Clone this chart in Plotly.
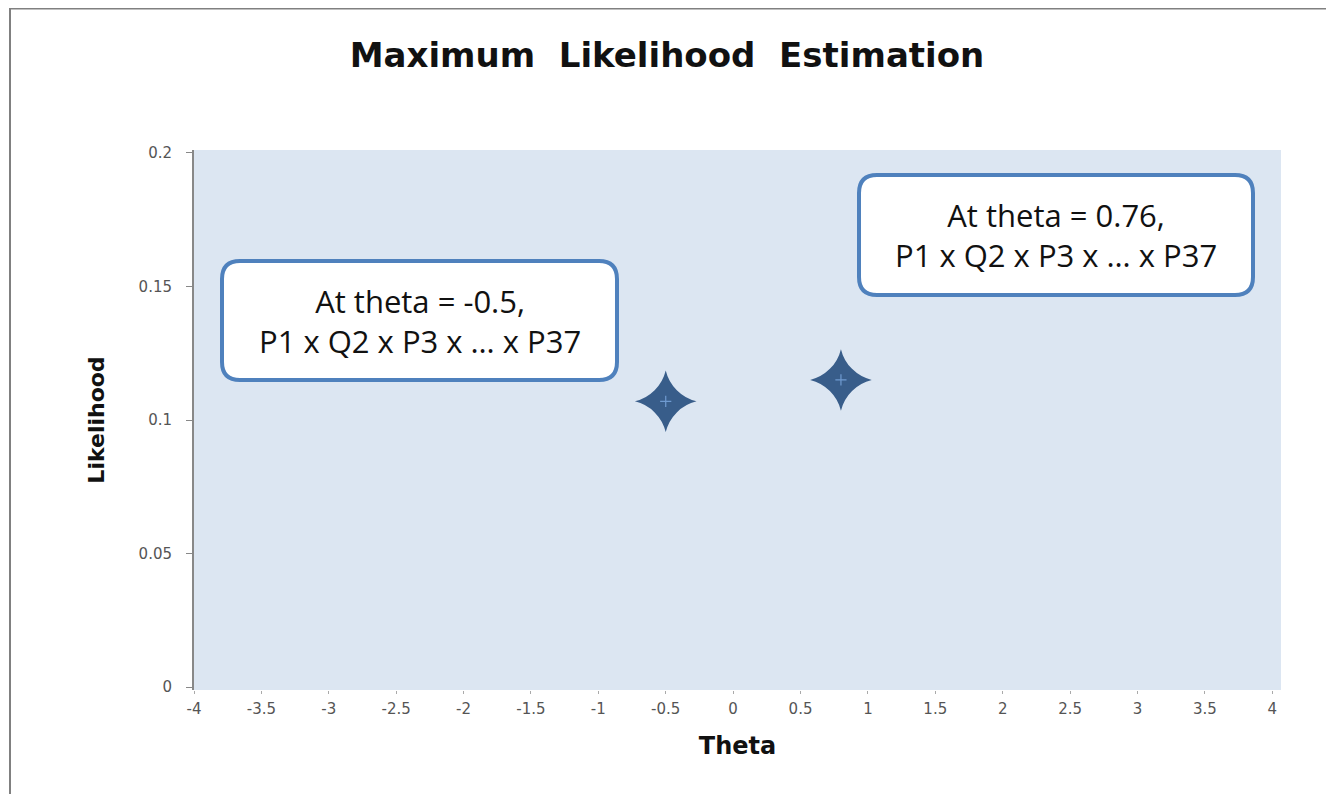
import plotly.graph_objects as go

# Data
theta = [-0.5, 0.8]
likelihood = [0.107, 0.115]
x_ticks = [-4, -3.5, -3, -2.5, -2, -1.5, -1, -0.5, 0, 0.5, 1, 1.5, 2, 2.5, 3, 3.5, 4]
y_ticks = [0, 0.05, 0.1, 0.15, 0.2]
y_tick_labels = ["0", "0.05", "0.1", "0.15", "0.2"]
box_texts = ["At theta = -0.5,<br>P1 x Q2 x P3 x … x P37",
             "At theta = 0.76,<br>P1 x Q2 x P3 x … x P37"]

# page has an 8px body margin; work in figure coordinates
OFF = 8
W, H = 1334 - OFF, 794 - OFF
L, R, T, B = 194 - OFF, 1281 - OFF, 150 - OFF, 690 - OFF

def px(xp):
    return (xp - OFF - L) / (R - L)

def py(yp):
    return (B - (yp - OFF)) / (B - T)

def rounded_rect(x0, y0, x1, y1, r):
    def P(a, b):
        return f"{px(a):.5f},{py(b):.5f}"
    return (f"M {P(x0 + r, y0)} L {P(x1 - r, y0)} Q {P(x1, y0)} {P(x1, y0 + r)} "
            f"L {P(x1, y1 - r)} Q {P(x1, y1)} {P(x1 - r, y1)} "
            f"L {P(x0 + r, y1)} Q {P(x0, y1)} {P(x0, y1 - r)} "
            f"L {P(x0, y0 + r)} Q {P(x0, y0)} {P(x0 + r, y0)} Z")

fig = go.Figure()
fig.add_trace(go.Scatter(
    x=theta, y=likelihood, mode="markers",
    marker=dict(symbol="star-diamond", size=44, color="#385D8A",
                line=dict(width=0)),
    showlegend=False, hoverinfo="x+y"))
fig.add_trace(go.Scatter(
    x=theta, y=likelihood, mode="markers",
    marker=dict(symbol="cross-thin", size=8, color="#6F9BD1",
                line=dict(width=1.2, color="#6F9BD1")),
    showlegend=False, hoverinfo="skip"))

# boxes in reference page pixels
boxes = [(222, 261, 617, 380), (859, 175, 1253, 295)]
shapes = []
for (x0, y0, x1, y1) in boxes:
    shapes.append(dict(type="path", xref="paper", yref="paper",
                       path=rounded_rect(x0, y0, x1, y1, 18),
                       fillcolor="white", line=dict(color="#4F81BD", width=4),
                       layer="above"))
# outer frame (top and left)
shapes.append(dict(type="line", xref="paper", yref="paper",
                   x0=px(9), x1=px(1334), y0=py(8.5), y1=py(8.5),
                   line=dict(color="#808080", width=2)))
shapes.append(dict(type="line", xref="paper", yref="paper",
                   x0=px(10), x1=px(10), y0=py(7.5), y1=py(794),
                   line=dict(color="#808080", width=2)))

annotations = []
for (x0, y0, x1, y1), t in zip(boxes, box_texts):
    annotations.append(dict(xref="paper", yref="paper",
                            x=px((x0 + x1) / 2), y=py((y0 + y1) / 2),
                            text=t, showarrow=False, align="center",
                            xanchor="center", yanchor="middle",
                            font=dict(family="Open Sans, Noto Sans, sans-serif",
                                      size=31, color="#111111")))

fig.update_layout(
    width=W, height=H,
    margin=dict(l=L, r=W - R, t=T, b=H - B),
    paper_bgcolor="white",
    plot_bgcolor="#DCE6F2",
    title=dict(text="<b>Maximum&nbsp; Likelihood&nbsp; Estimation</b>",
               x=(667 - OFF) / W, xref="container",
               y=1 - (55 - OFF) / H, yref="container", yanchor="middle", xanchor="center",
               font=dict(family="DejaVu Sans, sans-serif", size=34, color="#111111")),
    shapes=shapes,
    annotations=annotations,
    font=dict(family="DejaVu Sans, sans-serif"),
)

fig.update_xaxes(
    range=[-4.0, 4.065], tickvals=x_ticks, ticktext=[f"{v:g}" for v in x_ticks],
    showgrid=False, zeroline=False, showline=False,
    ticks="outside", ticklen=3, tickcolor="#aaaaaa",
    tickfont=dict(size=15, color="#555555"), ticklabelstandoff=2,
    title=dict(text="<b>Theta</b>", font=dict(family="DejaVu Sans, sans-serif", size=24, color="#111111"), standoff=20),
)
fig.update_yaxes(
    range=[-0.0011, 0.2011], tickvals=y_ticks, ticktext=y_tick_labels,
    showgrid=False, zeroline=False, showline=True, linecolor="#888888", linewidth=2,
    ticks="outside", ticklen=6, tickcolor="#888888",
    tickfont=dict(size=15, color="#555555"), ticklabelstandoff=11,
    title=dict(text="<b>Likelihood</b>", font=dict(family="DejaVu Sans, sans-serif", size=22, color="#111111"), standoff=28),
)

fig.write_html("out.html")
